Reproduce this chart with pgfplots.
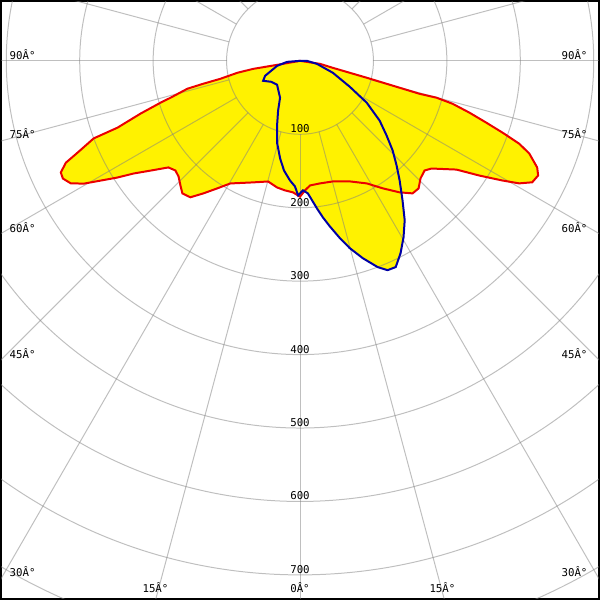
\documentclass[border=0pt]{standalone}
\usepackage{pgfplots}
\pgfplotsset{compat=1.18}
\usepackage{pgfplotstable}
\usepackage{fontspec}
\newfontfamily\lbl{DejaVu Sans Mono}
\definecolor{cred}{RGB}{235,0,0}
\definecolor{cblue}{RGB}{0,0,165}
\definecolor{cgrid}{RGB}{128,128,128}

% C0-C180 plane: angle (deg, left negative), intensity (cd)
\pgfplotstableread{
a I
-90 0
-80.1 31.7
-80.3 64.7
-79.2 87.0
-77.3 111.3
-76.7 135.3
-76.1 158.0
-74.1 183.4
-73.3 198.4
-71.7 228.7
-69.9 264.5
-69.4 300.2
-67.6 327.3
-66.5 347.6
-65.0 359.4
-63.6 360.5
-61.9 354.0
-60.4 338.5
-59.0 316.5
-57.4 294.8
-55.9 273.6
-53.7 252.4
-51.0 230.6
-48.65 226.0
-46.4 228.4
-43.8 235.2
-41.6 241.3
-38.8 238.4
-36.1 223.4
-33.0 207.1
-29.6 192.0
-21.1 177.4
-14.8 169.9
-10.3 175.2
-6.6 177.6
-3.0 179.4
0 185
2.2 176.5
4.6 170.2
9.2 169.1
15.3 170.2
22.5 177.7
28.6 190.1
33.0 207.0
37.15 224.7
40.35 236.8
42.9 237.2
45.7 229.3
48.65 226.0
50.7 231.5
55.2 259.4
57.4 289.9
59.4 320.0
60.8 342.0
62.4 356.9
64.3 359.9
65.8 354.1
68.0 336.7
69.3 319.1
70.5 292.3
71.65 267.3
73.0 241.3
74.3 215.7
74.9 192.6
74.6 168.9
74.9 140.6
75.8 93.8
78.0 45.8
81.5 27.5
90 0
}\planeA

% C90-C270 plane
\pgfplotstableread{
a I
-90 0
-85.6 17.7
-77.7 31.9
-66.8 51.7
-61.6 57.1
-54.1 48.6
-43.8 45.1
-28.4 57.1
-23.75 74.1
-19.5 93.6
-15.7 115.6
-11.5 135.7
-8.3 150.9
-4.8 163.4
-2.3 171.1
-0.8 183.2
1.3 176.4
3.4 180.8
6.55 202.2
8.3 215.3
10.2 228.9
12.7 247.6
14.9 264.0
17.65 282.0
20.65 300.2
22.7 309.0
24.9 309.6
27.6 295.6
30.4 278.6
33.3 259.7
36.3 235.9
39.8 212.0
42.7 194.0
45.95 175.6
49.2 155.9
53.1 135.7
57.9 107.3
62.5 76.5
70.0 47.7
80.0 23.4
90 9.5
90 0
}\planeB

\begin{document}
\begin{tikzpicture}
\begin{axis}[
  width=300pt, height=300pt, scale only axis,
  xmin=-407.05, xmax=407.05, ymin=-732.7, ymax=81.4,
  xtick=\empty, ytick=\empty,
  axis line style={black, line width=1.1pt},
  clip=true,
]
% filled areas
\addplot[fill=yellow, draw=none] table[x expr={\thisrow{I}*sin(\thisrow{a})}, y expr={-\thisrow{I}*cos(\thisrow{a})}] {\planeA};
\addplot[fill=yellow, draw=none] table[x expr={\thisrow{I}*sin(\thisrow{a})}, y expr={-\thisrow{I}*cos(\thisrow{a})}] {\planeB};
% grid
\pgfplotsinvokeforeach{100,200,300,400,500,600,700,800}{
  \draw[cgrid, opacity=0.5, line width=0.5pt] (axis cs:0,0) circle[radius=#1];
}
\pgfplotsinvokeforeach{0,15,...,345}{
  \draw[cgrid, opacity=0.5, line width=0.5pt] (axis cs:{100*sin(#1)},{-100*cos(#1)}) -- (axis cs:{1000*sin(#1)},{-1000*cos(#1)});
}
% outlines
\addplot[cred, line width=1pt] table[x expr={\thisrow{I}*sin(\thisrow{a})}, y expr={-\thisrow{I}*cos(\thisrow{a})}] {\planeA};
\addplot[cblue, line width=1pt] table[x expr={\thisrow{I}*sin(\thisrow{a})}, y expr={-\thisrow{I}*cos(\thisrow{a})}] {\planeB};
% labels
\pgfplotsinvokeforeach{100,200,300,400,500,600,700}{
  \node[font=\lbl\fontsize{5.4}{6}\selectfont, inner sep=0pt] at (axis cs:0,{-#1+7.5}) {#1};
}
\tikzset{lab/.style={font=\lbl\fontsize{5.4}{6}\selectfont, inner sep=0pt}}
\node[lab, anchor=west] at (axis cs:-396,8.1) {90Â°};
\node[lab, anchor=west] at (axis cs:-396,-99.1) {75Â°};
\node[lab, anchor=west] at (axis cs:-396,-226.6) {60Â°};
\node[lab, anchor=west] at (axis cs:-396,-398.9) {45Â°};
\node[lab, anchor=west] at (axis cs:-396,-696.1) {30Â°};
\node[lab] at (axis cs:-196.8,-717.8) {15Â°};
\node[lab] at (axis cs:0,-717.8) {0Â°};
\node[lab] at (axis cs:194.0,-717.8) {15Â°};
\node[lab, anchor=east] at (axis cs:392,8.1) {90Â°};
\node[lab, anchor=east] at (axis cs:392,-99.1) {75Â°};
\node[lab, anchor=east] at (axis cs:392,-226.6) {60Â°};
\node[lab, anchor=east] at (axis cs:392,-398.9) {45Â°};
\node[lab, anchor=east] at (axis cs:392,-696.1) {30Â°};
\end{axis}
\end{tikzpicture}
\end{document}
